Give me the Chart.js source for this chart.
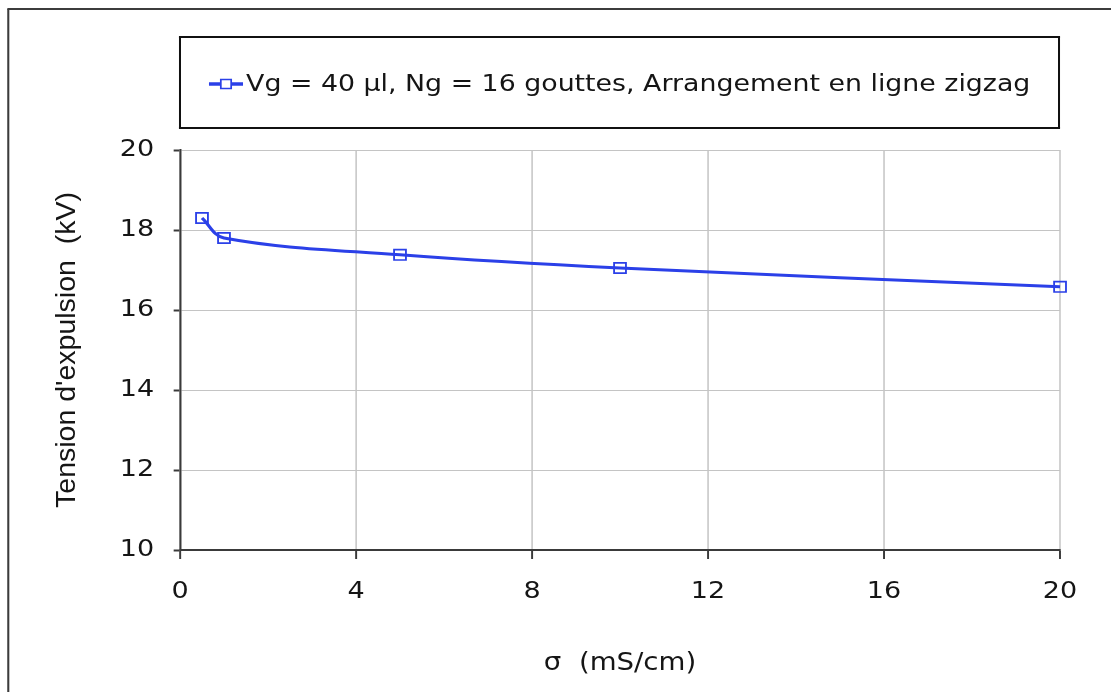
<!DOCTYPE html>
<html>
<head>
<meta charset="utf-8">
<script src="https://cdn.jsdelivr.net/npm/chart.js@4/dist/chart.umd.min.js"></script>
<style>
html,body{margin:0;padding:0;background:#fff;}
#wrap{width:1111px;height:692px;overflow:hidden;}
canvas{display:block;}
</style>
</head>
<body>
<div id="wrap"><canvas id="c" width="966" height="692"></canvas></div>
<script>
// ---- data ----
const sigma = [0.5, 1, 5, 10, 20];                 // conductivity (mS/cm)
const tension = [18.3, 17.8, 17.38, 17.05, 16.58]; // expulsion voltage (kV)
const seriesLabel = 'Vg = 40 µl, Ng = 16 gouttes, Arrangement en ligne zigzag';
const xTitle = 'σ  (mS/cm)';
const yTitle = "Tension d'expulsion  (kV)";

// ---- layout (pre-stretch units) ----
const W = 1111, H = 692, W0 = 966, S = W / W0;
const TXT = '#151515';
const BLUE = '#2b40e8';
const AXIS = '#3a3a3a';
const GRID = '#c4c4c4';

const frame = {
  id: 'frame',
  beforeDraw(chart) {
    const c = chart.ctx;
    c.save();
    c.fillStyle = '#fff';
    c.fillRect(0, 0, W0, H);
    c.strokeStyle = '#3c3c3c';
    c.lineWidth = 1.8;
    c.beginPath(); c.moveTo(7.2, H); c.lineTo(7.2, 9); c.stroke();
    c.lineWidth = 2;
    c.beginPath(); c.moveTo(6.4, 9); c.lineTo(W0, 9); c.stroke();
    c.restore();
  },
  afterDraw(chart) {
    const c = chart.ctx;
    const L = 156.5, R = 920.8, T = 37, B = 128;
    c.save();
    c.strokeStyle = '#111';
    c.lineWidth = 2;
    c.beginPath(); c.moveTo(L - 0.9, T); c.lineTo(R + 0.9, T); c.moveTo(L - 0.9, B); c.lineTo(R + 0.9, B); c.stroke();
    c.lineWidth = 1.75;
    c.beginPath(); c.moveTo(L, T); c.lineTo(L, B); c.moveTo(R, T); c.lineTo(R, B); c.stroke();
    // legend marker
    const ym = 84;
    c.strokeStyle = BLUE;
    c.lineWidth = 3.5;
    c.beginPath(); c.moveTo(181.7, ym); c.lineTo(211.3, ym); c.stroke();
    c.lineWidth = 1.5;
    c.fillStyle = '#fff';
    c.fillRect(192, ym - 4.5, 9, 9);
    c.strokeRect(192, ym - 4.5, 9, 9);
    c.fillStyle = TXT;
    c.font = '23.3px "DejaVu Sans"';
    c.textBaseline = 'middle';
    c.textAlign = 'left';
    c.fillText(chart.data.datasets[0].label, 214, ym + 1);
    c.restore();
  }
};

const canvas = document.getElementById('c');
const chart = new Chart(canvas.getContext('2d'), {
  type: 'line',
  data: {
    datasets: [{
      label: seriesLabel,
      data: sigma.map((x, i) => ({ x: x, y: tension[i] })),
      borderColor: BLUE,
      borderWidth: 3,
      tension: 0.35,
      pointStyle: 'rect',
      pointRadius: 7.3,
      pointBorderWidth: 1.6,
      pointBorderColor: BLUE,
      pointBackgroundColor: 'rgba(255,255,255,0)',
      clip: false,
      fill: false
    }]
  },
  options: {
    responsive: false,
    animation: false,
    devicePixelRatio: 1,
    layout: { padding: { left: 0, top: 150, right: W0 - 921.7, bottom: 0 } },
    plugins: { legend: { display: false }, tooltip: { enabled: false } },
    scales: {
      x: {
        type: 'linear', min: 0, max: 20,
        ticks: { stepSize: 4, color: TXT, font: { family: 'DejaVu Sans', size: 23.5 }, padding: 19, maxRotation: 0 },
        grid: { color: GRID, lineWidth: 1.3, tickColor: AXIS, tickLength: 9, tickWidth: 1.7 },
        border: { color: AXIS, width: 2 },
        title: { display: true, text: xTitle, color: TXT, font: { family: 'DejaVu Sans', size: 24, lineHeight: 1 }, padding: { top: 0, bottom: 16 } },
        afterFit(s) { s.height = H - 550; }
      },
      y: {
        min: 10, max: 20,
        ticks: { stepSize: 2, color: TXT, font: { family: 'DejaVu Sans', size: 23.5 }, padding: 17 },
        grid: { color: GRID, lineWidth: 1, tickColor: AXIS, tickLength: 5.5, tickWidth: 2 },
        border: { color: AXIS, width: 1.8 },
        title: { display: true, text: yTitle, color: TXT, font: { family: 'Liberation Sans', size: 28.5, lineHeight: 1 }, padding: { top: 52.75, bottom: 0 } },
        afterFit(s) { s.width = 156.5; }
      }
    }
  },
  plugins: [frame]
});

// the rotated axis title is drawn without the horizontal stretch
const yScale = chart.scales.y;
const baseDrawTitle = yScale.drawTitle;
yScale.drawTitle = function () {
  const c = this.ctx;
  c.save();
  c.setTransform(1, 0, 0, 1, 0, 0);
  baseDrawTitle.apply(this, arguments);
  c.restore();
};

// horizontal stretch to match the reference's wide text and aspect
canvas.width = W;
canvas.style.width = W + 'px';
canvas.style.height = H + 'px';
const cx = canvas.getContext('2d');
cx.setTransform(S, 0, 0, 1, 0, 0);
chart.draw();
</script>
</body>
</html>
